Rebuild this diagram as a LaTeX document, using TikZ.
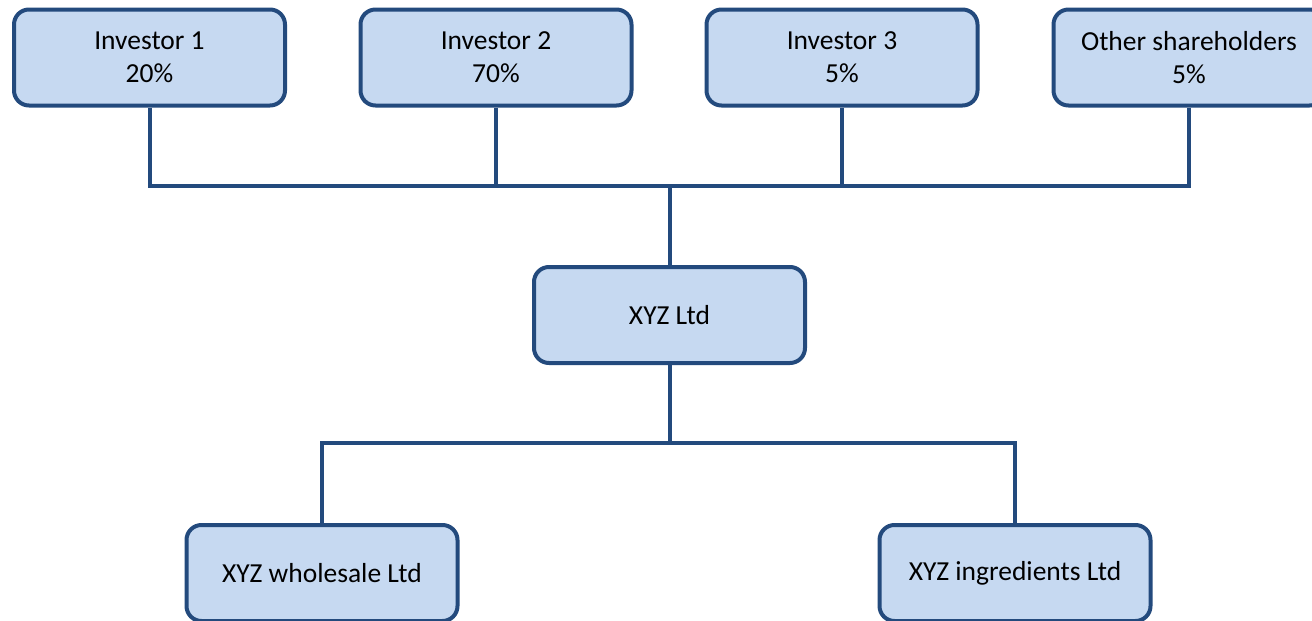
\documentclass[tikz,border=0pt]{standalone}
\usepackage{fontspec}
\setmainfont{Carlito}
\definecolor{edgeblue}{RGB}{35,74,125}
\definecolor{boxfill}{RGB}{198,217,241}
\begin{document}
\begin{tikzpicture}[x=1pt,y=-1pt,
  orgbox/.style={draw=edgeblue, fill=boxfill, line width=4pt, rounded corners=15pt,
    minimum width=271pt, minimum height=96pt, inner sep=0pt, align=center,
    font=\fontsize{27.5}{33}\selectfont},
  link/.style={draw=edgeblue, line width=4pt, line join=miter}]
\useasboundingbox (0,0) rectangle (1312,621);
\node[orgbox] (i1) at (149.5,57.5) {Investor 1\\20\%};
\node[orgbox] (i2) at (496,57.5) {Investor 2\\70\%};
\node[orgbox] (i3) at (842,57.5) {Investor 3\\5\%};
\node[orgbox] (i4) at (1189,57.5) {Other shareholders\\5\%};
\node[orgbox] (xyz) at (669.5,315) {XYZ Ltd};
\node[orgbox] (w) at (322,573) {XYZ wholesale Ltd};
\node[orgbox] (g) at (1015,573) {XYZ ingredients Ltd};
\coordinate (top) at (669.5,186);
\coordinate (bot) at (669.5,443);
\draw[link] (i1.south) |- (top);
\draw[link] (i4.south) |- (top);
\draw[link] (i2.south) -- (i2.south |- top);
\draw[link] (i3.south) -- (i3.south |- top);
\draw[link] (top) -- (xyz.north);
\draw[link] (xyz.south) -- (bot);
\draw[link] (bot) -| (w.north);
\draw[link] (bot) -| (g.north);
\end{tikzpicture}
\end{document}
